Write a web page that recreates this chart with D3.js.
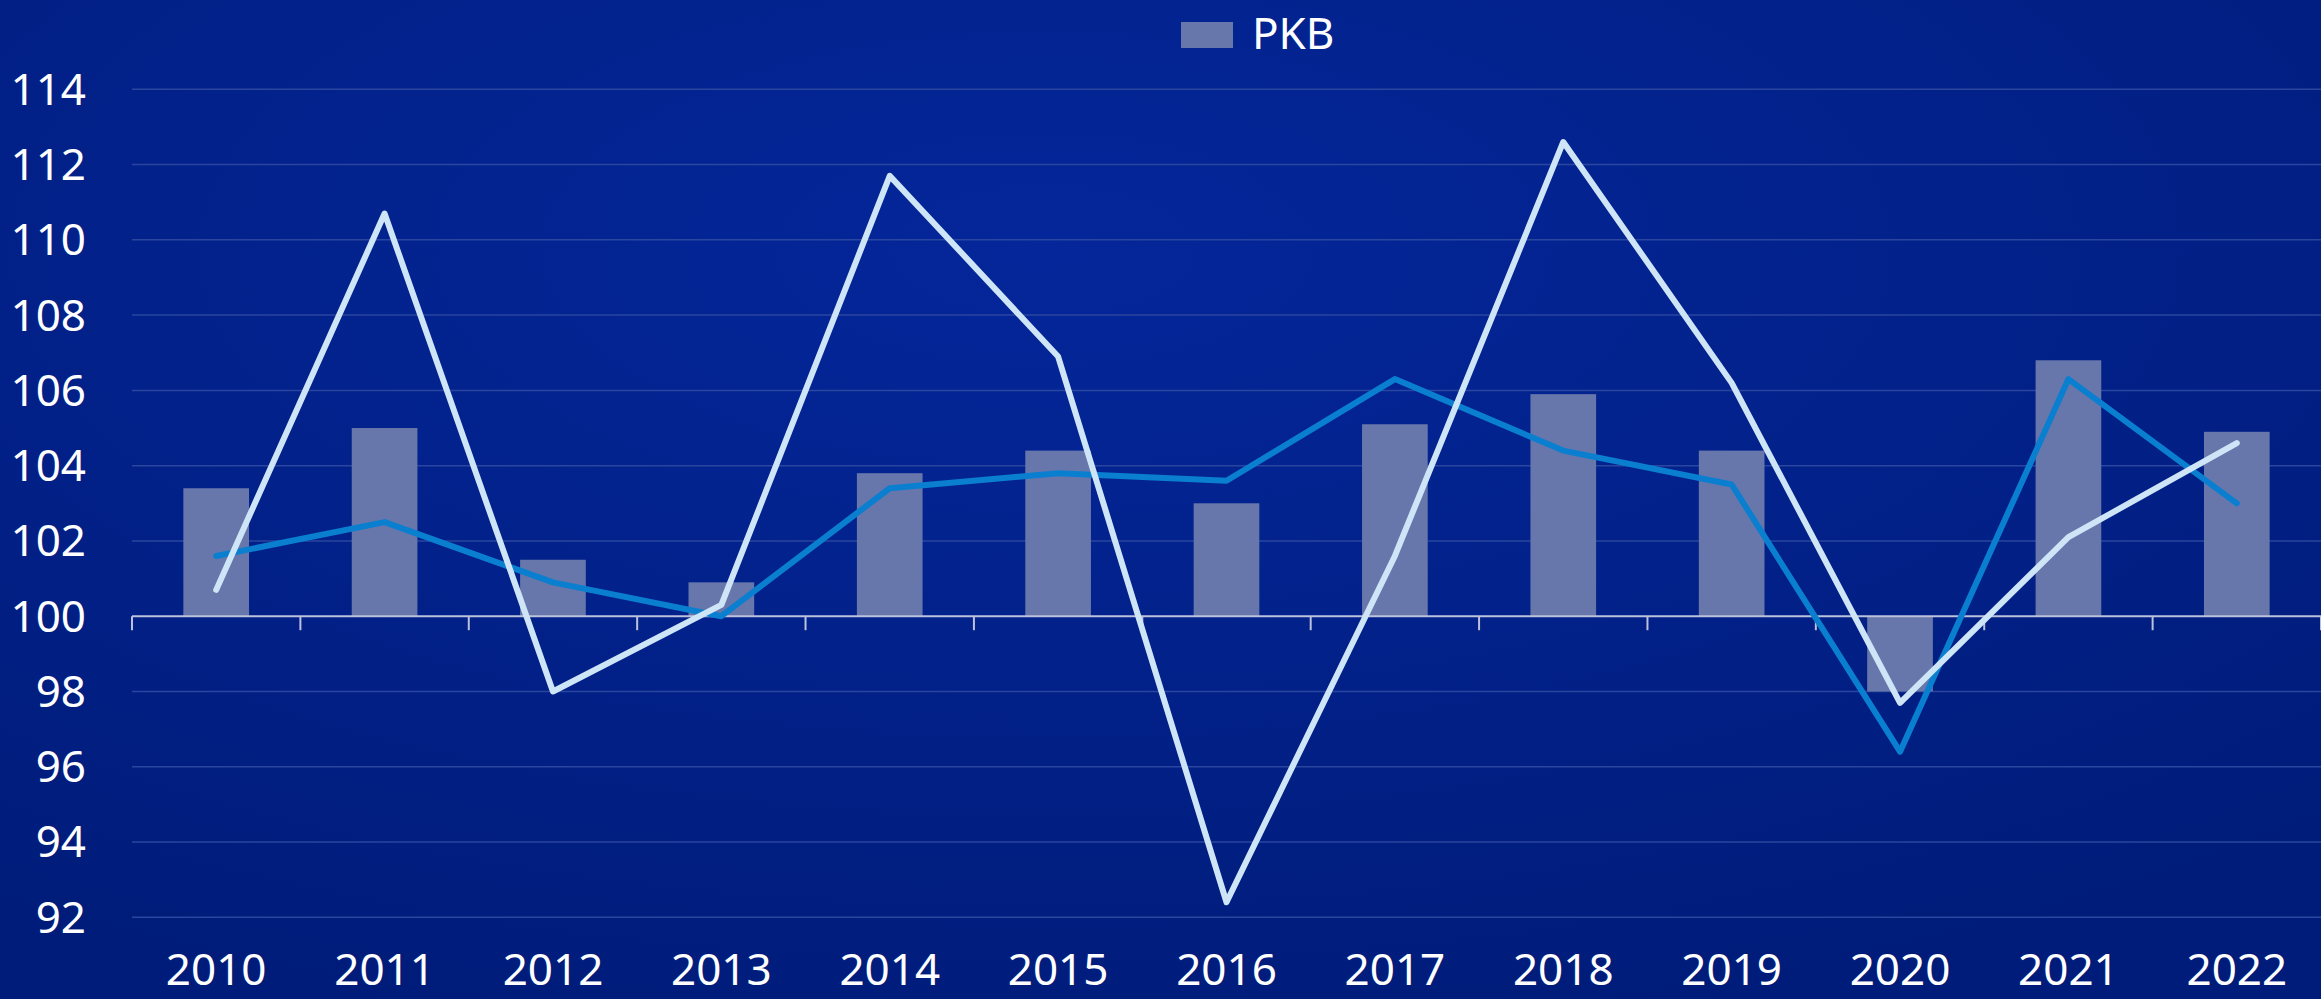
<!DOCTYPE html>
<html>
<head>
<meta charset="utf-8">
<script src="https://cdn.jsdelivr.net/npm/d3@7"></script>
<style>
  html, body { margin: 0; padding: 0; background: #001c7a; }
  svg { display: block; font-family: "Noto Sans", "Open Sans", sans-serif; }
</style>
</head>
<body>
<svg width="2321" height="999"></svg>
<script>
// data
var years = ["2010","2011","2012","2013","2014","2015","2016","2017","2018","2019","2020","2021","2022"];
var pkb = [103.4, 105.0, 101.5, 100.9, 103.8, 104.4, 103.0, 105.1, 105.9, 104.4, 98.0, 106.8, 104.9];
var lineDark = [101.6, 102.5, 100.9, 100.0, 103.4, 103.8, 103.6, 106.3, 104.4, 103.5, 96.4, 106.3, 103.0];
var lineLight = [100.7, 110.7, 98.0, 100.3, 111.7, 106.9, 92.4, 101.6, 112.6, 106.2, 97.7, 102.1, 104.6];
var yTicks = [92, 94, 96, 98, 100, 102, 104, 106, 108, 110, 112, 114];

var svg = d3.select("svg"),
    width = 2321,
    height = 999;

// background
var defs = svg.append("defs");
var grad = defs.append("radialGradient")
    .attr("id", "bg")
    .attr("cx", "45%").attr("cy", "25%").attr("r", "80%");
grad.append("stop").attr("offset", "0%").attr("stop-color", "#04269a");
grad.append("stop").attr("offset", "100%").attr("stop-color", "#001c7a");
svg.append("rect").attr("width", width).attr("height", height).attr("fill", "url(#bg)");

var x = d3.scaleBand().domain(years).range([132, 2321]).padding(0);
var y = d3.scaleLinear().domain([92, 114]).range([917.3, 89.3]);

// gridlines
svg.append("g")
   .selectAll("line")
   .data(yTicks.filter(function(d) { return d != 100; }))
   .enter()
   .append("line")
   .attr("x1", 132).attr("x2", width)
   .attr("y1", function(d) { return y(d); })
   .attr("y2", function(d) { return y(d); })
   .attr("stroke", "#2a469e")
   .attr("stroke-width", 1.5);

// y labels
svg.append("g")
   .selectAll("text")
   .data(yTicks)
   .enter()
   .append("text")
   .attr("x", 86)
   .attr("y", function(d) { return y(d); })
   .attr("dy", "0.35em")
   .attr("text-anchor", "end")
   .attr("fill", "#ffffff")
   .attr("font-size", 44)
   .text(function(d) { return d; });

// bars
var bw = x.bandwidth() * 0.39;
svg.append("g")
   .selectAll("rect")
   .data(pkb)
   .enter()
   .append("rect")
   .attr("x", function(d, i) { return x(years[i]) + x.bandwidth() / 2 - bw / 2; })
   .attr("y", function(d) { return y(Math.max(d, 100)); })
   .attr("width", bw)
   .attr("height", function(d) { return Math.abs(y(d) - y(100)); })
   .attr("fill", "#6877ab");

// x axis at 100
var xAxis = svg.append("g")
   .attr("transform", "translate(0," + y(100) + ")")
   .call(d3.axisBottom(x).tickSize(0).tickFormat(""));
xAxis.select(".domain").attr("stroke", "#bcc1dc").attr("stroke-width", 2);
xAxis.select(".domain").attr("d", "M132,0H" + width);

svg.append("g")
   .selectAll("line")
   .data(years.concat(["end"]))
   .enter()
   .append("line")
   .attr("x1", function(d, i) { return 132 + i * x.step(); })
   .attr("x2", function(d, i) { return 132 + i * x.step(); })
   .attr("y1", y(100)).attr("y2", y(100) + 14)
   .attr("stroke", "#bcc1dc")
   .attr("stroke-width", 2);

// x labels
svg.append("g")
   .selectAll("text")
   .data(years)
   .enter()
   .append("text")
   .attr("x", function(d) { return x(d) + x.bandwidth() / 2; })
   .attr("y", 985)
   .attr("text-anchor", "middle")
   .attr("fill", "#ffffff")
   .attr("font-size", 44)
   .text(function(d) { return d; });

// lines
var line = d3.line()
   .x(function(d, i) { return x(years[i]) + x.bandwidth() / 2; })
   .y(function(d) { return y(d); });

svg.append("path")
   .datum(lineDark)
   .attr("d", line)
   .attr("fill", "none")
   .attr("stroke", "#0a7fd0")
   .attr("stroke-width", 6)
   .attr("stroke-linejoin", "round")
   .attr("stroke-linecap", "round");

svg.append("path")
   .datum(lineLight)
   .attr("d", line)
   .attr("fill", "none")
   .attr("stroke", "#cde5f6")
   .attr("stroke-width", 6)
   .attr("stroke-linejoin", "round")
   .attr("stroke-linecap", "round");

// legend
var lg = svg.append("g");
lg.append("rect")
  .attr("x", 1181).attr("y", 22).attr("width", 52).attr("height", 26)
  .attr("fill", "#6877ab");
lg.append("text")
  .attr("x", 1252).attr("y", 49)
  .attr("fill", "#ffffff")
  .attr("font-size", 44)
  .text("PKB");
</script>
</body>
</html>
